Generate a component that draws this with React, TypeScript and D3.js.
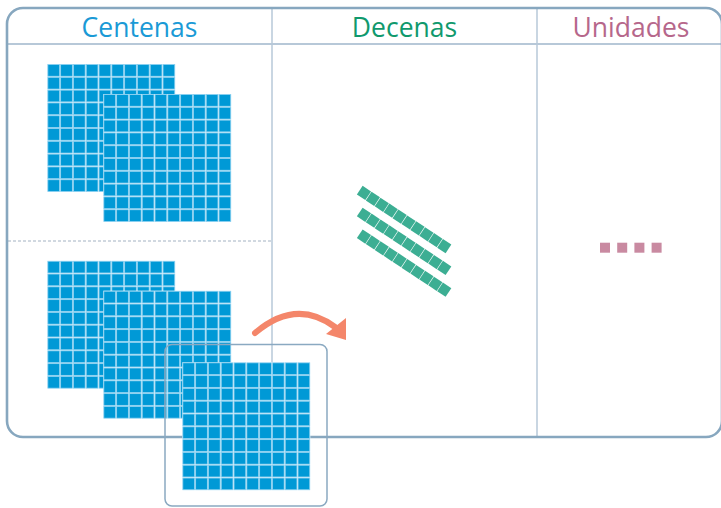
import React from 'react';
import * as d3 from 'd3';

// ---- data ----
const columns = ['Centenas', 'Decenas', 'Unidades'];
const columnColors = ['#1a9ad6', '#10996d', '#b6678b'];
const hundredsTop = 2;      // blocks of 100 in the upper half
const hundredsBottom = 3;   // blocks of 100 in the lower half (last one is carried)
const tens = 3;             // rods of 10
const units = 4;            // unit cubes
const side = 10;            // cells per side of a block

// ---- layout ----
const W = 721, H = 508;
const frame = { x0: 7, y0: 8, x1: 722, y1: 437, r: 16 };
const colX = d3.scaleLinear().domain([0, 1, 2, 3]).range([7, 272, 537, 722]);
const headerY = 44;
const blockSize = 128;
const cell = d3.scaleLinear().domain([0, side]).range([0, blockSize]);

const blockBlue = '#0099d6';
const blockEdge = '#88cff0';

function Block({ x, y }: { x: number; y: number }) {
  const idx = d3.range(side * side);
  return (
    <g transform={`translate(${x},${y})`}>
      <rect x={0} y={0} width={blockSize} height={blockSize} fill="#fff" />
      {idx.map((k) => {
        const c = k % side, r = Math.floor(k / side);
        const p = cell(1);
        return (
          <rect
            key={k}
            x={cell(c) + 0.55}
            y={cell(r) + 0.55}
            width={p - 1.1}
            height={p - 1.1}
            fill={blockBlue}
            stroke={blockEdge}
            strokeWidth={0.8}
          />
        );
      })}
    </g>
  );
}

export default function App() {
  const stepX = 56, stepY = 30;
  const topOrigin = { x: 47.3, y: 64 };
  const botOrigin = { x: 47.3, y: 260.7 };
  const carried = { dx: 79, dy: 71.6 };

  const topBlocks = d3.range(hundredsTop).map((i) => ({ x: topOrigin.x + i * stepX, y: topOrigin.y + i * stepY }));
  const botBlocks = d3.range(hundredsBottom).map((i) => {
    const j = Math.min(i, 1);
    const base = { x: botOrigin.x + j * stepX, y: botOrigin.y + j * stepY };
    return i >= 2 ? { x: base.x + carried.dx, y: base.y + carried.dy } : base;
  });
  const last = botBlocks[botBlocks.length - 1];

  const rodPitch = 10.7, rodAngle = 33.5, rodGap = 21.8;
  const rodStart = { x: 364, y: 193 };
  const rodY = d3.scaleLinear().domain([0, 1]).range([rodStart.y, rodStart.y + rodGap]);
  const unitX = d3.scaleLinear().domain([0, 1]).range([600, 617.2]);
  const unitY = 242.7;

  const framePath = `M${frame.x0 + frame.r},${frame.y0} H${frame.x1 - frame.r} A${frame.r},${frame.r} 0 0 1 ${frame.x1},${frame.y0 + frame.r} V${frame.y1 - frame.r} A${frame.r},${frame.r} 0 0 1 ${frame.x1 - frame.r},${frame.y1} H${frame.x0 + frame.r} A${frame.r},${frame.r} 0 0 1 ${frame.x0},${frame.y1 - frame.r} V${frame.y0 + frame.r} A${frame.r},${frame.r} 0 0 1 ${frame.x0 + frame.r},${frame.y0} Z`;

  const arc = d3.path();
  arc.moveTo(255, 333);
  arc.quadraticCurveTo(296, 298, 335, 327);

  return (
    <svg width={W} height={H} style={{ position: 'absolute', left: 0, top: 0 }}>
      <rect x={0} y={0} width={W} height={H} fill="#fff" />
      {/* dividers */}
      {[1, 2].map((i) => (
        <line key={i} x1={colX(i)} x2={colX(i)} y1={frame.y0} y2={frame.y1} stroke="#b7c8d8" strokeWidth={1.5} />
      ))}
      <line x1={frame.x0} x2={frame.x1} y1={headerY} y2={headerY} stroke="#b7c8d8" strokeWidth={1.8} />
      <line x1={frame.x0 + 1} x2={colX(1) - 1} y1={241} y2={241} stroke="#a3b2c2" strokeWidth={1} strokeDasharray="3,2" />
      <path d={framePath} fill="none" stroke="#87a7bf" strokeWidth={2.6} />

      {columns.map((c, i) => (
        <text
          key={c}
          x={(colX(i) + colX(i + 1)) / 2 + (i === 2 ? 1.5 : 0)}
          y={37}
          textAnchor="middle"
          fontFamily="'Open Sans', sans-serif"
          fontSize={26.5}
          fill={columnColors[i]}
        >
          {c}
        </text>
      ))}

      {topBlocks.map((b, i) => <Block key={'t' + i} x={b.x} y={b.y} />)}

      {d3.range(tens).map((r) => (
        <g key={'rod' + r} transform={`translate(${rodStart.x},${rodY(r)}) rotate(${rodAngle})`}>
          {d3.range(side).map((k) => (
            <rect key={k} x={k * rodPitch - 5.1} y={-5.2} width={10.1} height={10.4} fill="#3cae93" />
          ))}
        </g>
      ))}

      {d3.range(units).map((u) => (
        <rect key={'u' + u} x={unitX(u)} y={unitY} width={10} height={10} fill="#c98aa1" />
      ))}

      {botBlocks.slice(0, -1).map((b, i) => <Block key={'b' + i} x={b.x} y={b.y} />)}
      <rect x={last.x - 17.3} y={last.y - 17.8} width={162} height={161.5} rx={7} fill="none" stroke="#8aa9c1" strokeWidth={1.5} />
      <Block x={last.x} y={last.y} />

      <path d={arc.toString()} fill="none" stroke="#f4866a" strokeWidth={6} strokeLinecap="round" />
      <path d="M346,318 L346,340 L326,334 Z" fill="#f4866a" />
    </svg>
  );
}
